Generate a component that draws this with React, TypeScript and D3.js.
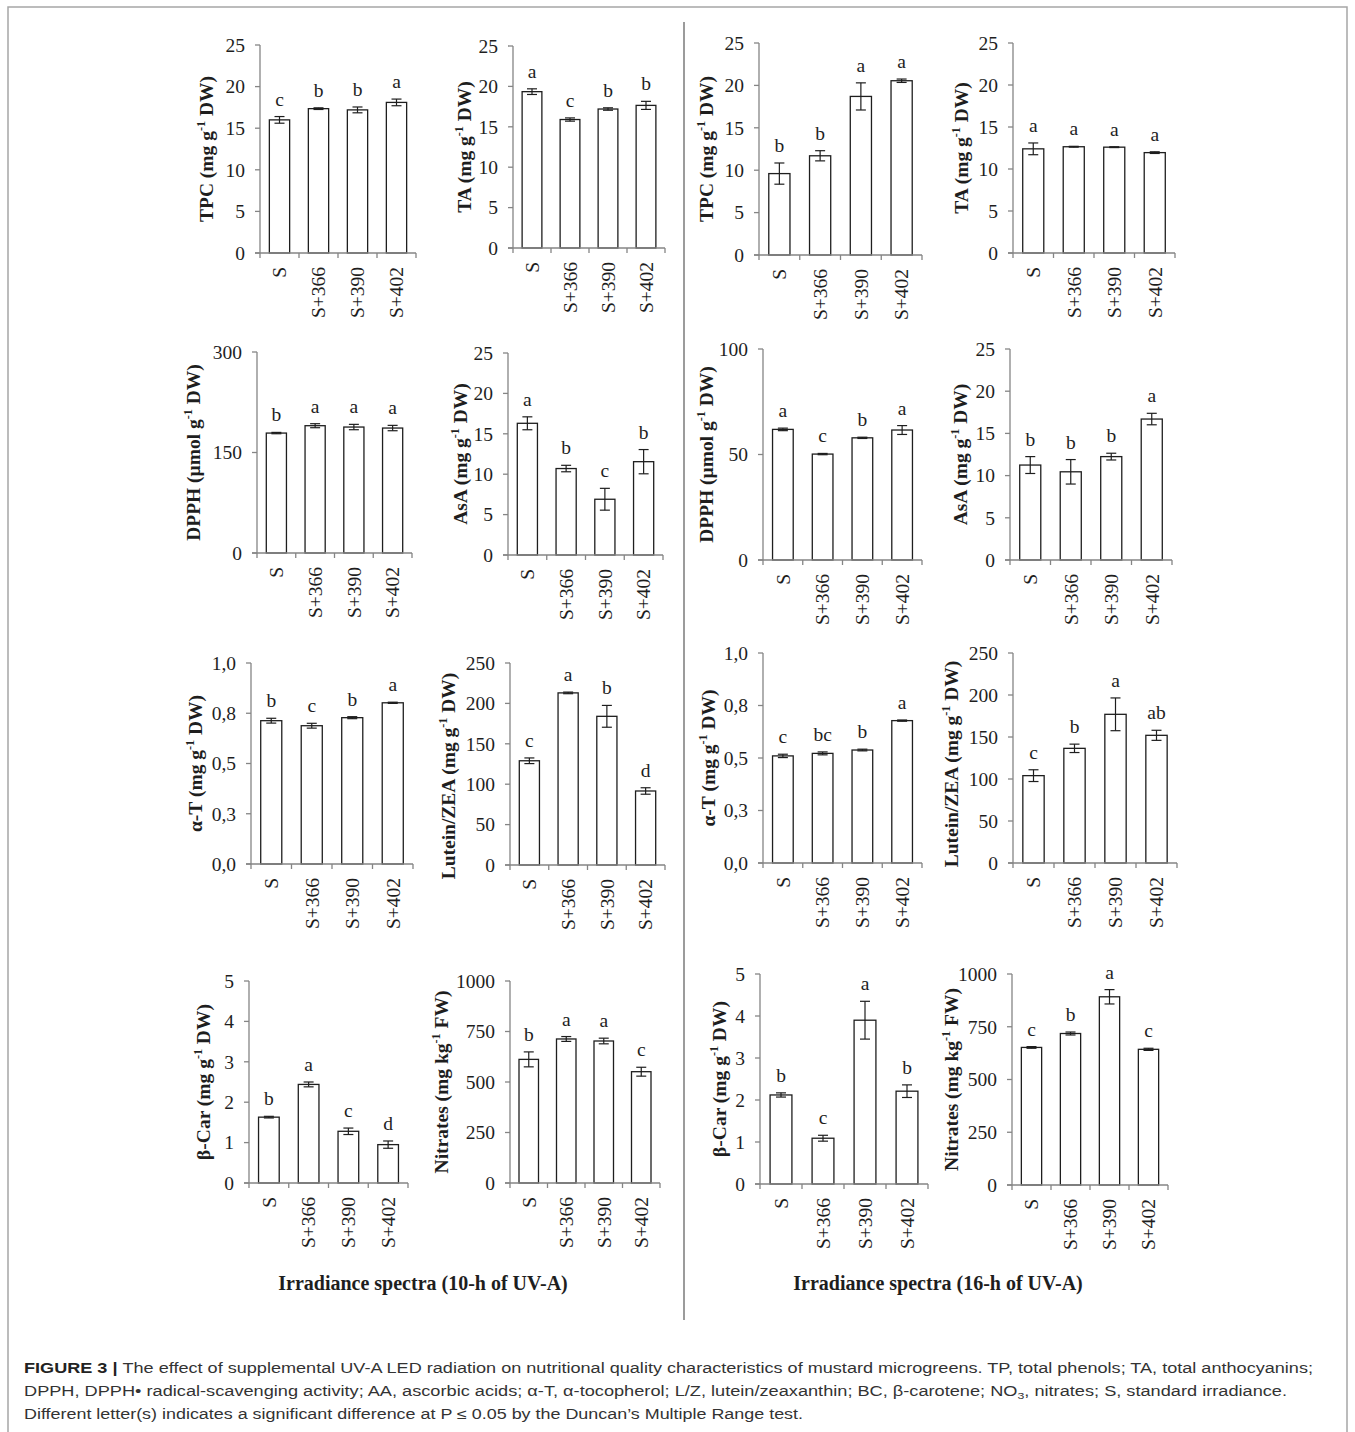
import React from 'react';
import * as d3 from 'd3';

const categories = ['S', 'S+366', 'S+390', 'S+402'];

// ---- 10-h of UV-A ----
const tpc10 = [16.0, 17.35, 17.2, 18.1];
const tpc10Err = [0.4, 0.1, 0.35, 0.4];
const tpc10Let = ['c', 'b', 'b', 'a'];

const ta10 = [19.35, 15.9, 17.2, 17.65];
const ta10Err = [0.35, 0.2, 0.15, 0.5];
const ta10Let = ['a', 'c', 'b', 'b'];

const dpph10 = [179, 190, 188, 186.5];
const dpph10Err = [1, 3, 4, 4];
const dpph10Let = ['b', 'a', 'a', 'a'];

const asa10 = [16.3, 10.7, 6.9, 11.55];
const asa10Err = [0.8, 0.4, 1.35, 1.5];
const asa10Let = ['a', 'b', 'c', 'b'];

const at10 = [0.713, 0.688, 0.728, 0.802];
const at10Err = [0.012, 0.012, 0.005, 0.003];
const at10Let = ['b', 'c', 'b', 'a'];

const lut10 = [129, 213, 184, 91.6];
const lut10Err = [3.5, 1, 13.5, 4];
const lut10Let = ['c', 'a', 'b', 'd'];

const bcar10 = [1.63, 2.44, 1.28, 0.95];
const bcar10Err = [0.02, 0.06, 0.08, 0.09];
const bcar10Let = ['b', 'a', 'c', 'd'];

const nit10 = [612, 713, 703, 551];
const nit10Err = [37, 12, 14, 22];
const nit10Let = ['b', 'a', 'a', 'c'];

// ---- 16-h of UV-A ----
const tpc16 = [9.6, 11.7, 18.7, 20.55];
const tpc16Err = [1.25, 0.6, 1.6, 0.2];
const tpc16Let = ['b', 'b', 'a', 'a'];

const ta16 = [12.4, 12.65, 12.6, 11.95];
const ta16Err = [0.7, 0.05, 0.05, 0.1];
const ta16Let = ['a', 'a', 'a', 'a'];

const dpph16 = [61.9, 50.2, 57.9, 61.6];
const dpph16Err = [0.6, 0.3, 0.3, 2.1];
const dpph16Let = ['a', 'c', 'b', 'a'];

const asa16 = [11.25, 10.45, 12.25, 16.7];
const asa16Err = [1.0, 1.45, 0.4, 0.68];
const asa16Let = ['b', 'b', 'b', 'a'];

const at16 = [0.51, 0.522, 0.538, 0.678];
const at16Err = [0.008, 0.007, 0.004, 0.003];
const at16Let = ['c', 'bc', 'b', 'a'];

const lut16 = [104, 136.5, 177, 152];
const lut16Err = [7, 5, 19.5, 6];
const lut16Let = ['c', 'b', 'a', 'ab'];

const bcar16 = [2.12, 1.09, 3.9, 2.21];
const bcar16Err = [0.05, 0.07, 0.45, 0.15];
const bcar16Let = ['b', 'c', 'a', 'b'];

const nit16 = [652, 718, 892, 643];
const nit16Err = [4, 7, 34, 5];
const nit16Let = ['c', 'b', 'a', 'c'];

// ---- tick values / labels ----
const ticks25 = [0, 5, 10, 15, 20, 25];
const ticksDpph10 = [0, 150, 300];
const ticksDpph16 = [0, 50, 100];
const ticksAT = [0, 0.25, 0.5, 0.75, 1.0];
const ticksATLabels = ['0,0', '0,3', '0,5', '0,8', '1,0'];
const ticksLut = [0, 50, 100, 150, 200, 250];
const ticksBcar = [0, 1, 2, 3, 4, 5];
const ticksNit = [0, 250, 500, 750, 1000];

// ---- y titles: [prefix, superscript, suffix] ----
const titleTPC = ['TPC (mg g', '-1', ' DW)'];
const titleTA = ['TA (mg g', '-1', ' DW)'];
const titleDPPH = ['DPPH (µmol g', '-1', ' DW)'];
const titleAsA = ['AsA (mg g', '-1', ' DW)'];
const titleAT = ['α-T (mg g', '-1', ' DW)'];
const titleLut = ['Lutein/ZEA (mg g', '-1', ' DW)'];
const titleBcar = ['β-Car (mg g', '-1', ' DW)'];
const titleNit = ['Nitrates (mg kg', '-1', ' FW)'];

const groupTitles = ['Irradiance spectra (10-h of UV-A)', 'Irradiance spectra (16-h of UV-A)'];

type Panel = {
  values: number[]; errs: number[]; letters: string[];
  ticks: number[]; tickLabels?: string[]; title: string[];
};

const panels: Panel[] = [
  { values: tpc10, errs: tpc10Err, letters: tpc10Let, ticks: ticks25, title: titleTPC },
  { values: ta10, errs: ta10Err, letters: ta10Let, ticks: ticks25, title: titleTA },
  { values: tpc16, errs: tpc16Err, letters: tpc16Let, ticks: ticks25, title: titleTPC },
  { values: ta16, errs: ta16Err, letters: ta16Let, ticks: ticks25, title: titleTA },
  { values: dpph10, errs: dpph10Err, letters: dpph10Let, ticks: ticksDpph10, title: titleDPPH },
  { values: asa10, errs: asa10Err, letters: asa10Let, ticks: ticks25, title: titleAsA },
  { values: dpph16, errs: dpph16Err, letters: dpph16Let, ticks: ticksDpph16, title: titleDPPH },
  { values: asa16, errs: asa16Err, letters: asa16Let, ticks: ticks25, title: titleAsA },
  { values: at10, errs: at10Err, letters: at10Let, ticks: ticksAT, tickLabels: ticksATLabels, title: titleAT },
  { values: lut10, errs: lut10Err, letters: lut10Let, ticks: ticksLut, title: titleLut },
  { values: at16, errs: at16Err, letters: at16Let, ticks: ticksAT, tickLabels: ticksATLabels, title: titleAT },
  { values: lut16, errs: lut16Err, letters: lut16Let, ticks: ticksLut, title: titleLut },
  { values: bcar10, errs: bcar10Err, letters: bcar10Let, ticks: ticksBcar, title: titleBcar },
  { values: nit10, errs: nit10Err, letters: nit10Let, ticks: ticksNit, title: titleNit },
  { values: bcar16, errs: bcar16Err, letters: bcar16Let, ticks: ticksBcar, title: titleBcar },
  { values: nit16, errs: nit16Err, letters: nit16Let, ticks: ticksNit, title: titleNit },
];

// layout (pixel geometry of each panel): axis x, right end, top y, baseline y, title offset, title dy
const layout = [
  [260, 416, 45, 253, 53, 0], [513, 665, 46, 248, 48, 0], [759, 922, 43, 255, 52, 0], [1013, 1175, 43, 253, 51, 0],
  [257, 412, 352, 553, 63, 0], [508, 663, 353, 555, 47, 0], [763, 922, 349, 560, 56, 0], [1010, 1172, 349, 560, 49, 0],
  [251, 413, 663, 864, 55, 0], [510, 665, 663, 865, 61, 12], [763, 922, 653, 863, 54, 0], [1013, 1177, 653, 863, 61, 6],
  [249, 408, 981, 1183, 45, 0], [510, 660, 981, 1183, 68, 0], [760, 928, 974, 1184, 40, 0], [1012, 1168, 974, 1185, 60, 0],
];

const SERIF = '"Liberation Serif", "Times New Roman", Times, serif';
const SANS = '"Liberation Sans", Arial, Helvetica, sans-serif';
const AXIS = '#858585';
const INK = '#1e1e1e';
const FS = 19.5;

function BarPanel({ p, l }: { p: Panel; l: number[] }) {
  const [x0, x1, yTop, y0, tOff, tDy] = l;
  const x = d3.scaleBand<string>().domain(categories).range([x0, x1]).paddingInner(0.48).paddingOuter(0.24);
  const step = (x1 - x0) / categories.length;
  const dom = d3.extent(p.ticks) as [number, number];
  const y = d3.scaleLinear().domain(dom).range([y0, yTop]);
  const bw = x.bandwidth();
  const cap = 5;
  return (
    <g>
      {p.values.map((v, i) => {
        const c = categories[i];
        const bx = x(c)!;
        const cx = bx + bw / 2;
        const e = p.errs[i];
        const yt = y(v + e);
        const yb = y(v - e);
        return (
          <g key={c}>
            <rect x={bx} y={y(v)} width={bw} height={y0 - y(v)} fill="#fff" stroke={INK} strokeWidth={1.3} />
            <line x1={cx} x2={cx} y1={yt} y2={yb} stroke={INK} strokeWidth={1.2} />
            <line x1={cx - cap} x2={cx + cap} y1={yt} y2={yt} stroke={INK} strokeWidth={1.2} />
            <line x1={cx - cap} x2={cx + cap} y1={yb} y2={yb} stroke={INK} strokeWidth={1.2} />
            <text x={cx} y={yt - 11} textAnchor="middle" fontFamily={SERIF} fontSize={FS} fill={INK}>{p.letters[i]}</text>
          </g>
        );
      })}
      <line x1={x0} x2={x0} y1={yTop} y2={y0 + 5} stroke={AXIS} strokeWidth={1.3} />
      {p.ticks.map((t, i) => (
        <g key={'yt' + i}>
          <line x1={x0 - 5} x2={x0} y1={y(t)} y2={y(t)} stroke={AXIS} strokeWidth={1.3} />
          <text x={x0 - 15} y={y(t)} dy="0.35em" textAnchor="end" fontFamily={SERIF} fontSize={FS} fill={INK}>
            {p.tickLabels ? p.tickLabels[i] : String(t)}
          </text>
        </g>
      ))}
      <line x1={x0 - 5} x2={x1} y1={y0} y2={y0} stroke={AXIS} strokeWidth={1.3} />
      {categories.map((c, i) => (
        <line key={'xt' + i} x1={x0 + step * (i + 1)} x2={x0 + step * (i + 1)} y1={y0} y2={y0 + 5} stroke={AXIS} strokeWidth={1.3} />
      ))}
      {categories.map((c) => {
        const cx = x(c)! + bw / 2;
        return (
          <text key={'xl' + c} transform={`translate(${cx},${y0 + 14}) rotate(-90)`} textAnchor="end" dy="0.35em"
            fontFamily={SERIF} fontSize={FS} fill={INK}>{c}</text>
        );
      })}
      <text transform={`translate(${x0 - tOff},${(yTop + y0) / 2 + tDy}) rotate(-90)`} textAnchor="middle" dy="0.3em"
        fontFamily={SERIF} fontSize={FS} fontWeight="bold" fill={INK}>
        {p.title[0]}
        <tspan fontSize={FS * 0.62} dy={-FS * 0.38}>{p.title[1]}</tspan>
        <tspan dy={FS * 0.38}>{p.title[2]}</tspan>
      </text>
    </g>
  );
}

export default function App() {
  return (
    <svg width={1355} height={1432} viewBox="0 0 1355 1432"
      style={{ position: 'absolute', left: 0, top: 0, display: 'block', background: '#fff' }}>
      <rect x={0} y={0} width={1355} height={1432} fill="#fff" />
      <rect x={8} y={7} width={1339} height={1450} fill="none" stroke="#a6a6a6" strokeWidth={1.5} />
      <line x1={684} x2={684} y1={22} y2={1320} stroke="#7a7a7a" strokeWidth={1.5} />
      {panels.map((p, i) => <BarPanel key={i} p={p} l={layout[i]} />)}
      <text x={423} y={1290} textAnchor="middle" fontFamily={SERIF} fontSize={20} fontWeight="bold" fill={INK}>{groupTitles[0]}</text>
      <text x={938} y={1290} textAnchor="middle" fontFamily={SERIF} fontSize={20} fontWeight="bold" fill={INK}>{groupTitles[1]}</text>
      <g fontFamily={SANS} fontSize={14} fill="#333">
        <text x={24} y={1372.5} textLength={1289} lengthAdjust="spacingAndGlyphs">
          <tspan fontWeight="bold" fill="#222">FIGURE 3 | </tspan>
          The effect of supplemental UV-A LED radiation on nutritional quality characteristics of mustard microgreens. TP, total phenols; TA, total anthocyanins;
        </text>
        <text x={24} y={1395.5} textLength={1263} lengthAdjust="spacingAndGlyphs">
          DPPH, DPPH• radical-scavenging activity; AA, ascorbic acids; α-T, α-tocopherol; L/Z, lutein/zeaxanthin; BC, β-carotene; NO
          <tspan fontSize={9.5} dy={3}>3</tspan>
          <tspan dy={-3}>, nitrates; S, standard irradiance.</tspan>
        </text>
        <text x={24} y={1418.5} textLength={779} lengthAdjust="spacingAndGlyphs">
          Different letter(s) indicates a significant difference at P ≤ 0.05 by the Duncan’s Multiple Range test.
        </text>
      </g>
    </svg>
  );
}
